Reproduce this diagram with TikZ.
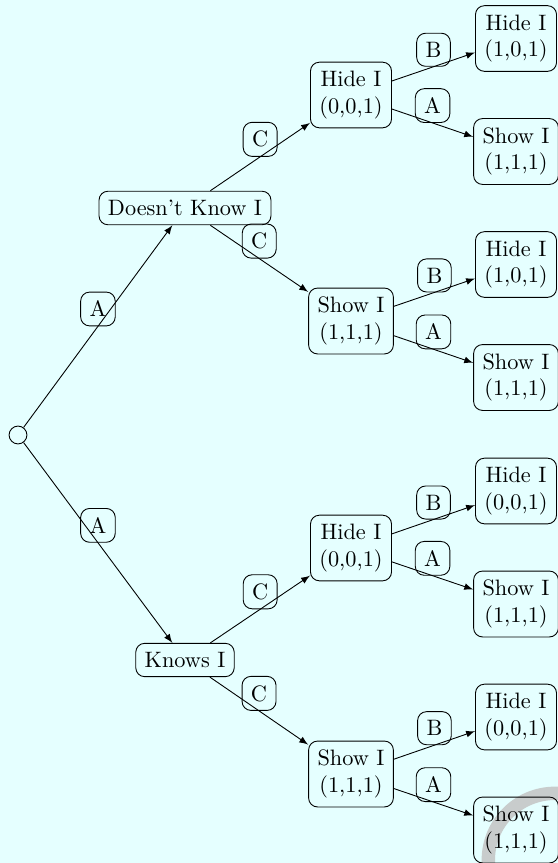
\documentclass[tikz,border=0pt]{standalone}
\usetikzlibrary{arrows}
\definecolor{bgc}{rgb}{0.9,1,1}
\definecolor{ringc}{RGB}{200,204,204}
\begin{document}
\begin{tikzpicture}[x=0.4484pt,y=-0.4484pt,
  st/.style={draw,rounded corners=4pt,align=center,inner sep=4pt},
  lab/.style={draw,rounded corners=4pt,inner sep=4pt,above},
  edge/.style={-latex}]
\fill[bgc] (0,0) rectangle (558,863);
\useasboundingbox (0,0) rectangle (558,863);
\draw[ringc,line width=6pt] (555,860) circle[radius=29.9pt];
% root
\node[circle,draw,minimum size=8pt,inner sep=0pt] (root) at (18,435) {};
% level 1
\node[st] (dk) at (185,208) {Doesn't Know I};
\node[st] (kn) at (185,660) {Knows I};
% level 2
\node[st] (h1) at (351,95) {Hide I\\(0,0,1)};
\node[st] (s1) at (351,321) {Show I\\(1,1,1)};
\node[st] (h2) at (351,548) {Hide I\\(0,0,1)};
\node[st] (s2) at (351,774) {Show I\\(1,1,1)};
% level 3
\node[st] (a1) at (516,38.5) {Hide I\\(1,0,1)};
\node[st] (b1) at (516,151.5) {Show I\\(1,1,1)};
\node[st] (a2) at (516,264.5) {Hide I\\(1,0,1)};
\node[st] (b2) at (516,377.5) {Show I\\(1,1,1)};
\node[st] (a3) at (516,491) {Hide I\\(0,0,1)};
\node[st] (b3) at (516,604) {Show I\\(1,1,1)};
\node[st] (a4) at (516,717) {Hide I\\(0,0,1)};
\node[st] (b4) at (516,830) {Show I\\(1,1,1)};
% edges
\draw[edge] (root) -- node[lab]{A} (dk);
\draw[edge] (root) -- node[lab]{A} (kn);
\draw[edge] (dk) -- node[lab]{C} (h1);
\draw[edge] (dk) -- node[lab]{C} (s1);
\draw[edge] (kn) -- node[lab]{C} (h2);
\draw[edge] (kn) -- node[lab]{C} (s2);
\draw[edge] (h1) -- node[lab]{B} (a1);
\draw[edge] (h1) -- node[lab]{A} (b1);
\draw[edge] (s1) -- node[lab]{B} (a2);
\draw[edge] (s1) -- node[lab]{A} (b2);
\draw[edge] (h2) -- node[lab]{B} (a3);
\draw[edge] (h2) -- node[lab]{A} (b3);
\draw[edge] (s2) -- node[lab]{B} (a4);
\draw[edge] (s2) -- node[lab]{A} (b4);
\end{tikzpicture}
\end{document}
